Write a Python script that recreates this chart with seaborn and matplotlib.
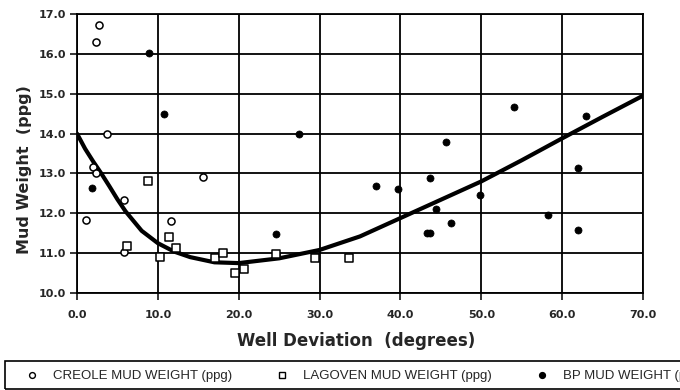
import numpy as np
import pandas as pd
import seaborn as sns
import matplotlib
matplotlib.use("Agg")
import matplotlib.pyplot as plt
from matplotlib.lines import Line2D
from matplotlib.patches import Rectangle

# ---- data ----
creole_x = [2.75, 2.4, 3.7, 2.0, 2.3, 5.85, 1.1, 5.85, 15.6, 11.6, 24.6]
creole_y = [16.72, 16.3, 14.0, 13.15, 13.02, 12.33, 11.83, 11.02, 12.92, 11.81, 10.98]

lagoven_x = [6.2, 8.8, 10.3, 11.4, 12.2, 17.1, 18.1, 19.6, 20.7, 24.6, 29.4, 33.7]
lagoven_y = [11.19, 12.82, 10.91, 11.41, 11.12, 10.87, 11.01, 10.5, 10.6, 10.98, 10.87, 10.87]

bp_x = [8.9, 10.8, 1.8, 24.6, 27.5, 37.0, 39.7, 43.6, 45.6, 44.4, 43.3, 43.7,
        46.2, 49.8, 54.1, 58.2, 62.0, 62.0, 63.0]
bp_y = [16.01, 14.49, 12.63, 11.48, 13.99, 12.69, 12.6, 12.88, 13.78, 12.12, 11.5, 11.5,
        11.76, 12.46, 14.67, 11.96, 13.14, 11.58, 14.44]

curve_x = [0, 1, 2, 3, 4, 5, 6, 8, 10, 12, 14, 17, 20, 25, 30, 35, 40, 45, 50, 55, 60, 65, 70]
curve_y = [14.0, 13.62, 13.3, 13.0, 12.68, 12.35, 12.05, 11.56, 11.25, 11.04, 10.9, 10.77,
           10.75, 10.87, 11.08, 11.42, 11.88, 12.34, 12.8, 13.33, 13.88, 14.42, 14.95]

x_ticks = [0, 10, 20, 30, 40, 50, 60, 70]
y_ticks = [10, 11, 12, 13, 14, 15, 16, 17]
legend_labels = ["CREOLE MUD WEIGHT (ppg)", "LAGOVEN MUD WEIGHT (ppg)", "BP MUD WEIGHT (ppg)"]

sns.set_theme(style="white")
plt.rcParams['font.family'] = ['Liberation Sans', 'DejaVu Sans']

W, H = 680, 390
fig = plt.figure(figsize=(6.8, 3.9), dpi=100)
ax = fig.add_axes([77 / W, 1 - 293 / H, 566 / W, 279 / H])

df_c = pd.DataFrame({"x": creole_x, "y": creole_y})
df_l = pd.DataFrame({"x": lagoven_x, "y": lagoven_y})
df_b = pd.DataFrame({"x": bp_x, "y": bp_y})
df_curve = pd.DataFrame({"x": curve_x, "y": curve_y})

ax.grid(True, color="black", linewidth=1.3)
ax.set_axisbelow(True)

sns.lineplot(data=df_curve, x="x", y="y", ax=ax, color="black", linewidth=3.0,
             zorder=3, sort=True)
sns.scatterplot(data=df_c, x="x", y="y", ax=ax, marker="o", s=26,
                facecolor="white", edgecolor="black", linewidth=1.1, zorder=4)
sns.scatterplot(data=df_l, x="x", y="y", ax=ax, marker="s", s=36,
                facecolor="white", edgecolor="black", linewidth=1.1, zorder=4)
sns.scatterplot(data=df_b, x="x", y="y", ax=ax, marker="o", s=26,
                color="black", edgecolor="black", linewidth=0.5, zorder=4)

ax.set_xlim(0, 70)
ax.set_ylim(10, 17)
ax.set_xticks(x_ticks)
ax.set_yticks(y_ticks)
ax.set_xticklabels([f"{v:.1f}" for v in x_ticks], fontsize=8, fontweight="bold",
                   family="DejaVu Sans")
ax.set_yticklabels([f"{v:.1f}" for v in y_ticks], fontsize=8, fontweight="bold",
                   family="DejaVu Sans")
ax.tick_params(axis="both", direction="out", length=5, width=1.1, color="black",
               bottom=True, left=True)
ax.tick_params(axis="x", pad=7)
ax.tick_params(axis="y", pad=3)
for s in ax.spines.values():
    s.set_color("black")
    s.set_linewidth(1.3)

ax.set_xlabel("Well Deviation  (degrees)", fontsize=12, fontweight="bold",
              family="DejaVu Sans")
ax.xaxis.label.set_va("center")
ax.xaxis.set_label_coords((356 - 77) / 566, (293 - 341) / 279)
ax.set_ylabel("Mud Weight  (ppg)", fontsize=11.5, fontweight="bold",
              family="DejaVu Sans")
ax.yaxis.label.set_va("center")
ax.yaxis.set_label_coords((25 - 77) / 566, (293 - 170) / 279)

# legend frame (runs past the right edge as in the reference)
fig.patches.append(Rectangle((5 / W, 1 - 389 / H), 700 / W, 28 / H,
                             transform=fig.transFigure, facecolor="none",
                             edgecolor="black", linewidth=1.2, clip_on=False))

handles = [
    Line2D([], [], linestyle="none", marker="o", markersize=4.2, markerfacecolor="white",
           markeredgecolor="black", markeredgewidth=1.0),
    Line2D([], [], linestyle="none", marker="s", markersize=4.6, markerfacecolor="white",
           markeredgecolor="black", markeredgewidth=1.0),
    Line2D([], [], linestyle="none", marker="o", markersize=4.2, color="black"),
]
leg = fig.legend(handles, legend_labels, loc="center left",
                 bbox_to_anchor=(25.4 / W, 1 - 376 / H), ncol=3, fontsize=9.5,
                 frameon=False, handlelength=1.0, handletextpad=1.1,
                 columnspacing=3.3, borderpad=0, borderaxespad=0)

fig.savefig("out.png", dpi=100)
